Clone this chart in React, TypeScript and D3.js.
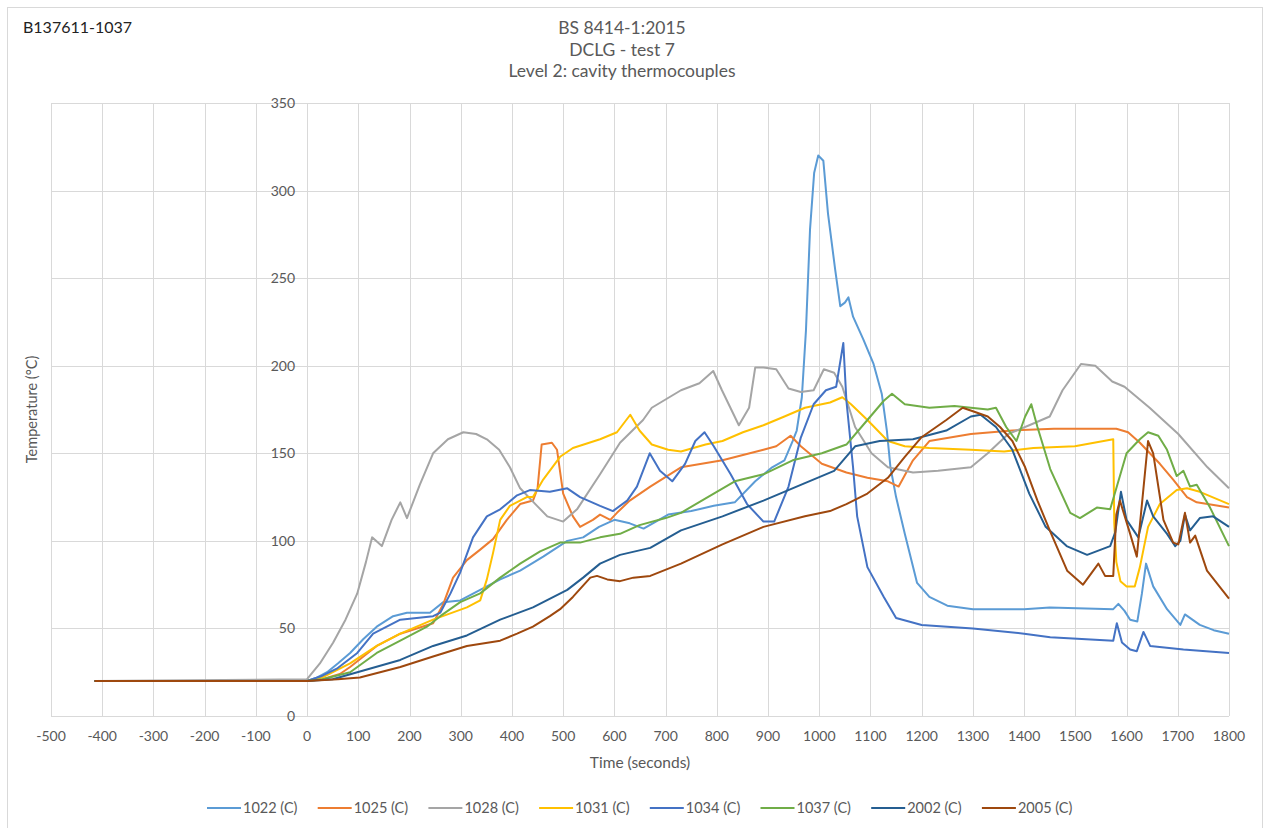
import { useEffect, useRef } from 'react';
import * as d3 from 'd3';

type Pt = [number, number];

const SERIES_NAMES = ['1022 (C)', '1025 (C)', '1028 (C)', '1031 (C)', '1034 (C)', '1037 (C)', '2002 (C)', '2005 (C)'];
const COLORS = ['#5B9BD5', '#ED7D31', '#A5A5A5', '#FFC000', '#4472C4', '#70AD47', '#255E91', '#9E480E'];
const X_TICKS = d3.range(-500, 1801, 100);
const Y_TICKS = d3.range(0, 351, 50);

// time (s), temperature (°C)
const s1022: Pt[] = [[-415,20],[0,20],[20,22],[39,25],[60,30],[84,36],[110,44],[136,51],[168,57],[195,59],[240,59],[266,65],[299,66],[338,72],[377,78],[416,83],[461,91],[508,100],[539,102],[570,108],[600,112],[630,110],[657,107],[705,115],[750,117],[794,120],[835,122],[875,134],[908,142],[932,146],[948,157],[956,163],[966,182],[974,220],[982,278],[990,310],[998,320],[1008,317],[1017,287],[1031,255],[1041,234],[1050,236],[1057,239],[1066,228],[1086,215],[1106,201],[1122,184],[1132,163],[1139,142],[1150,125],[1167,104],[1191,76],[1215,68],[1250,63],[1300,61],[1400,61],[1450,62],[1574,61],[1584,64],[1596,60],[1607,55],[1621,54],[1630,70],[1638,87],[1652,74],[1679,61],[1705,52],[1714,58],[1743,52],[1770,49],[1800,47]];
const s1025: Pt[] = [[-415,20],[0,20],[30,21],[64,24],[84,28],[136,40],[182,47],[246,53],[266,64],[285,79],[312,89],[338,95],[363,101],[390,112],[416,121],[441,123],[450,130],[458,155],[478,156],[488,152],[500,127],[519,114],[533,108],[558,112],[572,115],[592,112],[605,116],[630,123],[670,131],[730,142],[811,146],[891,152],[916,154],[944,160],[964,154],[1005,144],[1053,139],[1094,136],[1134,134],[1155,131],[1183,146],[1215,157],[1296,161],[1377,163],[1458,164],[1580,164],[1603,162],[1626,156],[1665,144],[1691,135],[1718,125],[1737,122],[1800,119]];
const s1028: Pt[] = [[-415,20],[0,21],[25,30],[51,42],[75,55],[98,70],[115,88],[127,102],[146,97],[165,112],[182,122],[195,113],[220,132],[246,150],[275,158],[305,162],[330,161],[351,158],[375,152],[396,142],[416,130],[449,120],[469,114],[500,111],[527,118],[572,138],[611,156],[656,169],[673,176],[730,186],[766,190],[793,197],[810,186],[843,166],[863,176],[875,199],[891,199],[916,198],[940,187],[964,185],[989,186],[1009,198],[1029,196],[1045,188],[1070,165],[1102,150],[1134,142],[1183,139],[1232,140],[1296,142],[1329,150],[1369,161],[1410,166],[1450,171],[1475,186],[1511,201],[1539,200],[1572,191],[1596,188],[1645,176],[1701,161],[1758,142],[1800,130]];
const s1031: Pt[] = [[-415,20],[0,20],[30,22],[84,30],[136,40],[182,47],[246,55],[312,62],[338,66],[351,78],[363,93],[377,112],[396,120],[429,125],[441,125],[461,135],[494,148],[519,153],[572,158],[605,162],[631,172],[649,163],[673,155],[705,152],[730,151],[778,155],[811,157],[851,162],[891,166],[932,171],[972,176],[1021,179],[1045,182],[1062,178],[1094,169],[1134,157],[1167,154],[1215,153],[1296,152],[1361,151],[1418,153],[1499,154],[1574,158],[1576,110],[1580,88],[1588,77],[1600,74],[1616,74],[1626,85],[1642,108],[1665,121],[1698,129],[1718,130],[1743,128],[1800,121]];
const s1034: Pt[] = [[-415,20],[0,20],[30,23],[58,27],[98,36],[129,47],[182,55],[246,57],[260,59],[280,70],[299,82],[324,102],[351,114],[377,118],[410,126],[435,129],[474,128],[508,130],[533,125],[572,120],[597,117],[625,123],[644,131],[669,150],[689,140],[713,134],[738,144],[758,157],[776,162],[794,154],[827,138],[859,121],[891,111],[912,111],[940,131],[964,159],[989,178],[1013,186],[1033,188],[1047,213],[1053,180],[1066,142],[1074,114],[1094,85],[1126,68],[1150,56],[1200,52],[1300,50],[1400,47],[1451,45],[1574,43],[1581,53],[1591,42],[1607,38],[1620,37],[1633,48],[1646,40],[1711,38],[1800,36]];
const s1037: Pt[] = [[-415,20],[0,20],[30,21],[84,25],[136,36],[182,43],[234,51],[260,57],[299,65],[338,70],[377,79],[416,87],[455,94],[494,99],[533,99],[572,102],[611,104],[649,109],[700,113],[730,116],[794,127],[835,134],[891,138],[948,146],[1005,150],[1053,155],[1094,169],[1126,180],[1142,184],[1167,178],[1215,176],[1264,177],[1296,176],[1329,175],[1345,176],[1365,165],[1385,157],[1402,171],[1414,178],[1426,165],[1451,141],[1490,116],[1509,113],[1542,119],[1568,118],[1581,131],[1600,150],[1626,158],[1642,162],[1662,160],[1679,152],[1698,137],[1711,140],[1724,131],[1737,132],[1763,119],[1800,97]];
const s2002: Pt[] = [[-415,20],[0,20],[50,21],[98,25],[182,32],[246,40],[312,46],[377,55],[441,62],[508,72],[539,79],[572,87],[611,92],[670,96],[730,106],[811,114],[891,123],[972,133],[1029,140],[1070,154],[1118,157],[1183,158],[1248,163],[1296,171],[1315,172],[1345,165],[1377,152],[1410,127],[1442,108],[1483,97],[1523,92],[1568,97],[1578,105],[1589,128],[1600,112],[1623,102],[1640,123],[1652,114],[1679,104],[1695,97],[1705,100],[1714,115],[1724,106],[1743,113],[1769,114],[1800,108]];
const s2005: Pt[] = [[-415,20],[0,20],[60,21],[103,22],[182,28],[246,34],[312,40],[377,43],[410,47],[441,51],[474,57],[494,61],[519,68],[553,79],[566,80],[586,78],[611,77],[637,79],[670,80],[730,87],[811,98],[891,108],[972,114],[1021,117],[1053,121],[1094,127],[1134,136],[1167,148],[1199,159],[1248,169],[1280,176],[1300,174],[1329,171],[1353,165],[1377,157],[1402,142],[1426,123],[1450,106],[1484,83],[1515,75],[1545,87],[1558,80],[1574,80],[1580,115],[1587,123],[1607,104],[1620,91],[1642,157],[1652,150],[1672,112],[1691,99],[1701,98],[1714,116],[1724,99],[1734,103],[1757,83],[1800,67]];

const SERIES = [s1022, s1025, s1028, s1031, s1034, s1037, s2002, s2005];

const W = 1268;
const H = 828;
const FONT = 'Lato, "Open Sans", sans-serif';
const TEXT = '#595959';
const GRID = '#d9d9d9';

function Chart() {
  const svgRef = useRef<SVGSVGElement>(null);

  useEffect(() => {
    if (!svgRef.current) return;
    const svg = d3.select(svgRef.current);
    svg.selectAll('*').remove();

    const x = d3.scaleLinear().domain([-500, 1800]).range([51, 1229]);
    const y = d3.scaleLinear().domain([0, 350]).range([716, 103]);

    svg.append('rect').attr('width', W).attr('height', H).attr('fill', '#fff');
    svg.append('rect')
      .attr('x', 7.5).attr('y', 7.5)
      .attr('width', 1255).attr('height', 830)
      .attr('fill', 'none').attr('stroke', GRID);

    // grid
    const grid = svg.append('g').attr('stroke', GRID).attr('stroke-width', 1);
    X_TICKS.forEach(t => {
      grid.append('line')
        .attr('x1', Math.round(x(t)) + 0.5).attr('x2', Math.round(x(t)) + 0.5)
        .attr('y1', y(350)).attr('y2', y(0));
    });
    Y_TICKS.forEach(v => {
      grid.append('line')
        .attr('x1', x(-500)).attr('x2', x(1800))
        .attr('y1', Math.round(y(v)) + 0.5).attr('y2', Math.round(y(v)) + 0.5);
    });

    // tick labels
    const labels = svg.append('g').attr('font-family', FONT).attr('fill', TEXT).attr('font-size', 14);
    X_TICKS.forEach(t => {
      labels.append('text')
        .attr('x', x(t)).attr('y', 741)
        .attr('text-anchor', 'middle')
        .text(t);
    });
    Y_TICKS.forEach(v => {
      labels.append('text')
        .attr('x', x(0) - 12).attr('y', y(v) + 5)
        .attr('text-anchor', 'end')
        .text(v);
    });

    // series
    const line = d3.line<Pt>().x(d => x(d[0])).y(d => y(d[1]));
    SERIES.forEach((s, i) => {
      svg.append('path')
        .attr('d', line(s))
        .attr('fill', 'none')
        .attr('stroke', COLORS[i])
        .attr('stroke-width', 2)
        .attr('stroke-linejoin', 'round');
    });

    // titles
    svg.append('text')
      .attr('x', 23).attr('y', 33)
      .attr('font-family', FONT).attr('font-size', 16).attr('fill', '#222')
      .text('B137611-1037');
    ['BS 8414-1:2015', 'DCLG - test 7', 'Level 2: cavity thermocouples'].forEach((t, i) => {
      svg.append('text')
        .attr('x', 622).attr('y', 34 + i * 21.5)
        .attr('text-anchor', 'middle')
        .attr('font-family', FONT).attr('font-size', 17.5).attr('fill', TEXT)
        .text(t);
    });

    svg.append('text')
      .attr('x', 640).attr('y', 768)
      .attr('text-anchor', 'middle')
      .attr('font-family', FONT).attr('font-size', 15.5).attr('fill', TEXT)
      .text('Time (seconds)');

    svg.append('text')
      .attr('transform', `translate(37, ${(y(0) + y(350)) / 2}) rotate(-90)`)
      .attr('text-anchor', 'middle')
      .attr('font-family', FONT).attr('font-size', 14.5).attr('fill', TEXT)
      .text('Temperature (°C)');

    // legend
    const legend = svg.append('g').attr('transform', 'translate(207, 808)');
    SERIES_NAMES.forEach((name, i) => {
      const row = legend.append('g').attr('transform', `translate(${i * 110.7}, 0)`);
      row.append('line')
        .attr('x1', 0).attr('x2', 34)
        .attr('stroke', COLORS[i]).attr('stroke-width', 2);
      row.append('text')
        .attr('x', 36).attr('y', 5)
        .attr('font-family', FONT).attr('font-size', 14.5).attr('fill', TEXT)
        .text(name);
    });
  }, []);

  return <svg ref={svgRef} width={W} height={H} style={{ display: 'block' }} />;
}

export default function App() {
  return (
    <div style={{ position: 'absolute', left: 0, top: 0 }}>
      <Chart />
    </div>
  );
}
